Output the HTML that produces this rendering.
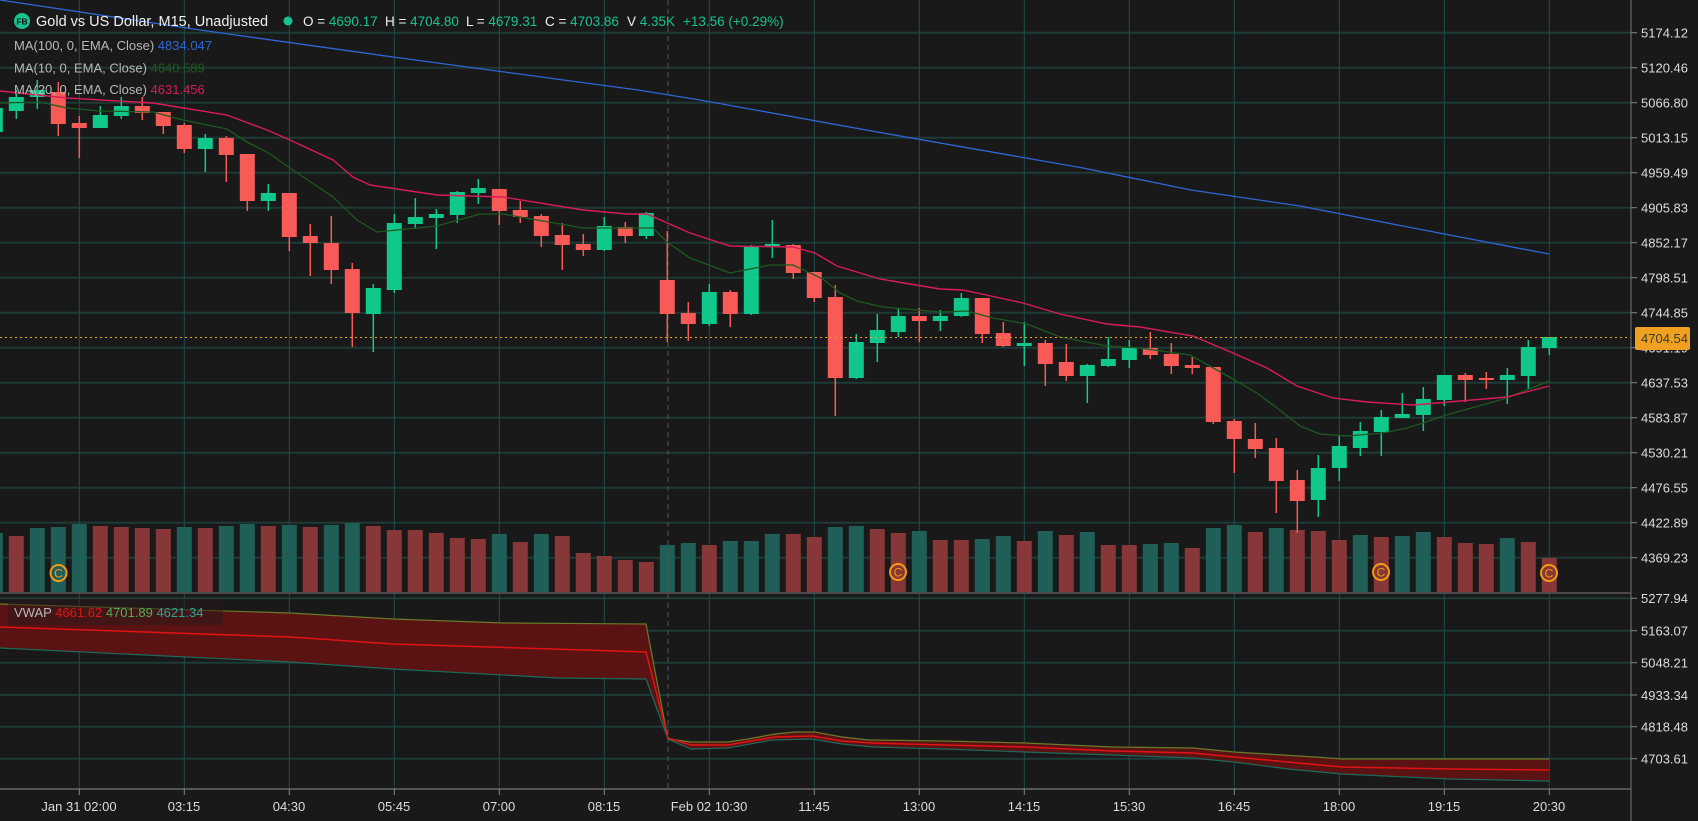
<!DOCTYPE html>
<html><head><meta charset="utf-8"><style>
html,body{margin:0;padding:0;background:#191919;overflow:hidden}
svg{display:block;font-family:"Liberation Sans",sans-serif}
</style></head><body>
<svg id="s" width="1698" height="821" viewBox="0 0 1698 821" xmlns="http://www.w3.org/2000/svg">
<rect width="1698" height="821" fill="#191919"/>
<g id="grid"></g>
<g id="vol"></g>
<line x1="668" y1="0" x2="668" y2="789" stroke="#555" stroke-width="1" stroke-dasharray="5,4"/>
<!-- VWAP band -->
<path d="M0,604 L290,613 L393,619 L504,623 L646,624 L668,739 L691,742 L728,742 L748,739 L775,734 L795,732 L815,732 L842,737 L869,740 L944,741 L1025,743 L1112,747 L1193,748 L1234,752 L1315,757 L1342,759 L1549,759 L1549,781 L1450,779 L1342,774 L1288,769 L1234,762 L1193,758 L1112,755 L1025,752 L944,749 L873,747 L842,744 L812,739 L772,740 L728,748 L691,749 L668,739 L646,679 L558,678 L393,669 L290,662 L0,648 Z" fill="#5a1212"/>
<polyline fill="none" stroke="#6b7a2a" stroke-width="1.2" points="0,604 290,613 393,619 504,623 646,624 668,739 691,742 728,742 748,739 775,734 795,732 815,732 842,737 869,740 944,741 1025,743 1112,747 1193,748 1234,752 1315,757 1342,759 1549,759"/>
<polyline fill="none" stroke="#1f6a5e" stroke-width="1.2" points="0,648 290,662 393,669 558,678 646,679 668,739 691,749 728,748 772,740 812,739 842,744 873,747 944,749 1025,752 1112,755 1193,758 1234,762 1288,769 1342,774 1450,779 1549,781"/>
<polyline fill="none" stroke="#e01414" stroke-width="1.5" points="0,627 290,637 393,644 646,652 668,738 691,745 728,745 775,737 812,736 842,741 873,743 944,745 1025,747 1112,751 1193,753 1234,757 1342,767 1450,769 1549,770"/>
<g id="cand"></g>
<!-- MAs -->
<polyline fill="none" stroke="#2f66d6" stroke-width="1.3" points="0,0 200,30 393,57 638,90 700,100 866,130 1083,168 1191,190 1300,206 1408,227 1549,254"/>
<polyline fill="none" stroke="#1d5a1d" stroke-width="1.3" points="0,103 40,102 67,108 100,111 153,112 183,120 227,129 247,142 267,152 290,168 333,197 357,220 377,232 437,226 480,214 503,214 583,228 653,228 667,242 690,258 730,273 770,265 793,265 823,279 840,293 857,301 883,307 940,312 967,311 993,318 1027,324 1060,337 1107,346 1140,348 1190,355 1233,379 1257,393 1277,408 1300,426 1320,434 1347,436 1383,433 1407,428 1423,423 1443,416 1507,398 1549,381"/>
<polyline fill="none" stroke="#d81b5a" stroke-width="1.4" points="0,91 67,98 153,103 227,115 267,130 290,140 333,160 353,177 370,185 437,195 503,197 583,210 627,214 647,214 690,233 730,246 793,247 815,253 837,266 880,279 940,289 963,290 1023,303 1060,314 1107,324 1140,327 1193,336 1233,353 1267,368 1297,386 1333,398 1367,402 1413,405 1507,397 1549,386"/>
<!-- current price line -->
<line x1="0" y1="337.5" x2="1631" y2="337.5" stroke="#f0a020" stroke-width="1" stroke-dasharray="2,3"/>
<!-- C icons -->
<g fill="none" stroke="#f39c12" stroke-width="2">
<circle cx="58.5" cy="573" r="8"/><circle cx="898" cy="572" r="8"/><circle cx="1381" cy="572" r="8"/><circle cx="1549" cy="573" r="8"/>
</g>
<g fill="#f39c12" font-size="12" text-anchor="middle">
<text x="58.5" y="577.5">C</text><text x="898" y="576.5">C</text><text x="1381" y="576.5">C</text><text x="1549" y="577.5">C</text>
</g>
<!-- separators & axes -->
<rect x="1631" y="0" width="67" height="821" fill="#191919"/>
<rect x="0" y="790" width="1631" height="31" fill="#191919"/>
<line x1="0" y1="593" x2="1631" y2="593" stroke="#4a4a4a" stroke-width="2"/>
<line x1="1631" y1="0" x2="1631" y2="821" stroke="#666" stroke-width="1.2"/>
<line x1="0" y1="789" x2="1631" y2="789" stroke="#777" stroke-width="1.2"/>
<g id="ticks" stroke="#888" stroke-width="1"></g>
<g fill="#dcdcdc" font-size="13">
<text x="1641" y="37.5">5174.12</text>
<text x="1641" y="72.5">5120.46</text>
<text x="1641" y="107.5">5066.80</text>
<text x="1641" y="142.5">5013.15</text>
<text x="1641" y="177.5">4959.49</text>
<text x="1641" y="212.5">4905.83</text>
<text x="1641" y="247.5">4852.17</text>
<text x="1641" y="282.5">4798.51</text>
<text x="1641" y="317.5">4744.85</text>
<text x="1641" y="352.5">4691.19</text>
<text x="1641" y="387.5">4637.53</text>
<text x="1641" y="422.5">4583.87</text>
<text x="1641" y="457.5">4530.21</text>
<text x="1641" y="492.5">4476.55</text>
<text x="1641" y="527.5">4422.89</text>
<text x="1641" y="562.5">4369.23</text>
<text x="1641" y="603">5277.94</text>
<text x="1641" y="635.5">5163.07</text>
<text x="1641" y="667.5">5048.21</text>
<text x="1641" y="700">4933.34</text>
<text x="1641" y="731.5">4818.48</text>
<text x="1641" y="763.5">4703.61</text>
</g>
<rect x="1635" y="327" width="55" height="23" rx="2" fill="#f0a020"/>
<text x="1641" y="343" fill="#3a3a3a" font-size="13">4704.54</text>
<g fill="#dcdcdc" font-size="13" text-anchor="middle">
<text x="79" y="811">Jan 31 02:00</text><text x="184" y="811">03:15</text><text x="289" y="811">04:30</text><text x="394" y="811">05:45</text><text x="499" y="811">07:00</text><text x="604" y="811">08:15</text><text x="709" y="811">Feb 02 10:30</text><text x="814" y="811">11:45</text><text x="919" y="811">13:00</text><text x="1024" y="811">14:15</text><text x="1129" y="811">15:30</text><text x="1234" y="811">16:45</text><text x="1339" y="811">18:00</text><text x="1444" y="811">19:15</text><text x="1549" y="811">20:30</text>
</g>
<!-- header -->
<circle cx="22" cy="21" r="8" fill="#16c290"/>
<text x="22" y="24.5" fill="#111" font-size="8.5" font-weight="bold" text-anchor="middle">FB</text>
<text x="36" y="26" fill="#f0f0f0" font-size="14.5">Gold vs US Dollar, M15, Unadjusted</text>
<circle cx="288" cy="21" r="4.5" fill="#16c290"/>
<g font-size="13.5">
<text x="303" y="26" fill="#f0f0f0">O = <tspan fill="#16c290">4690.17</tspan></text>
<text x="385" y="26" fill="#f0f0f0">H = <tspan fill="#16c290">4704.80</tspan></text>
<text x="466" y="26" fill="#f0f0f0">L = <tspan fill="#16c290">4679.31</tspan></text>
<text x="545" y="26" fill="#f0f0f0">C = <tspan fill="#16c290">4703.86</tspan></text>
<text x="627" y="26" fill="#f0f0f0">V <tspan fill="#16c290">4.35K</tspan></text>
<text x="683" y="26" fill="#16c290">+13.56 (+0.29%)</text>
</g>
<g font-size="13">
<text x="14" y="50" fill="#b8b8b8">MA(100, 0, EMA, Close) <tspan fill="#2f66d6">4834.047</tspan></text>
<text x="14" y="72.5" fill="#b8b8b8">MA(10, 0, EMA, Close) <tspan fill="#1f5c1f">4640.589</tspan></text>
<text x="14" y="94" fill="#b8b8b8">MA(20, 0, EMA, Close) <tspan fill="#d81b5a">4631.456</tspan></text>
</g>
<rect x="8" y="599" width="215" height="26" fill="#2a1a1a" opacity="0.5"/>
<text x="14" y="617" font-size="13" fill="#b8b8b8">VWAP <tspan fill="#e01414">4661.62</tspan> <tspan fill="#4caf50">4701.89</tspan> <tspan fill="#26a69a">4621.34</tspan></text>
</svg>
<script>
(function(){
var NS="http://www.w3.org/2000/svg";
function el(p,t,a){var e=document.createElementNS(NS,t);for(var k in a)e.setAttribute(k,a[k]);p.appendChild(e);return e;}
var g=document.getElementById('grid');
for(var k=0;k<16;k++){var y=32.7+35*k;el(g,'line',{x1:0,y1:y,x2:1631,y2:y,stroke:'#1d3a37','stroke-width':2});}
[598.3,630.7,662.7,695,726.7,758.7].forEach(function(y){el(g,'line',{x1:0,y1:y,x2:1631,y2:y,stroke:'#1d3a37','stroke-width':2});});
for(var k=0;k<15;k++){var x=79.3+105*k;el(g,'line',{x1:x,y1:0,x2:x,y2:789,stroke:'#1d4f4a','stroke-width':1});}
var tk=document.getElementById('ticks');
for(var k=0;k<16;k++){var y=32.7+35*k;el(tk,'line',{x1:1631,y1:y,x2:1637,y2:y});}
[598.3,630.7,662.7,695,726.7,758.7].forEach(function(y){el(tk,'line',{x1:1631,y1:y,x2:1637,y2:y});});
for(var k=0;k<15;k++){var x=79.3+105*k;el(tk,'line',{x1:x,y1:789,x2:x,y2:795});}
var C=[[-4,'g',108,132,100,134],[-3,'g',97,111,90,119],[-2,'g',90,97,80,109],[-1,'r',92,124,82,136],[0,'r',123,128,116,158],[1,'g',115,128,106,128],[2,'g',106,116,97,119],[3,'r',106,113,97,120],[4,'r',112,126,112,134],[5,'r',125,149,123,153],[6,'g',138,149,134,172],[7,'r',138,155,136,182],[8,'r',154,201,154,211],[9,'g',193,201,184,211],[10,'r',193,237,193,251],[11,'r',236,243,224,276],[12,'r',243,270,216,284],[13,'r',269,313,263,347],[14,'g',288,314,284,352],[15,'g',223,290,214,293],[16,'g',217,224,198,229],[17,'g',214,218,209,249],[18,'g',192,215,191,223],[19,'g',188,193,179,204],[20,'r',189,211,189,225],[21,'r',210,217,201,223],[22,'r',216,236,214,247],[23,'r',235,245,223,270],[24,'r',244,250,234,256],[25,'g',226,250,217,251],[26,'r',227,236,222,243],[27,'g',213,236,212,239],[28,'r',280,314,231,342],[29,'r',313,324,302,341],[30,'g',292,324,284,326],[31,'r',292,314,290,327],[32,'g',246,314,245,315],[33,'g',244,246.5,220,258],[34,'r',245,273,244,279],[35,'r',272,298,272,302],[36,'r',297,378,285,416],[37,'g',342,378,334,379],[38,'g',330,343,314,362],[39,'g',316,332,308,337],[40,'r',316,321,308,342],[41,'g',316,321,310,331],[42,'g',298,316,293,317],[43,'r',298,334,298,343],[44,'r',333,346,322,347],[45,'g',343,346,322,366],[46,'r',343,364,340,386],[47,'r',362,376,344,381],[48,'g',365,376,364,403],[49,'g',359,366,337,367],[50,'g',348,360,340,368],[51,'r',348,355,332,359],[52,'r',354,366,343,374],[53,'r',365,368,357,374],[54,'r',367,422,367,424],[55,'r',421,439,419,473],[56,'r',439,449,423,458],[57,'r',448,481,438,513],[58,'r',480,501,470,533],[59,'g',468,500,455,517],[60,'g',446,468,436,481],[61,'g',431,448,422,456],[62,'g',417,432,410,456],[63,'g',414,418,393,418],[64,'g',399,415,387,431],[65,'g',375,400,375,406],[66,'r',375,380,373,402],[67,'r',378,380,372,389],[68,'g',375,380,368,404],[69,'g',347,376,340,389],[70,'g',337,348,337,355]];
var cg=document.getElementById('cand');
C.forEach(function(c){var x=79.3+21*c[0];var col=c[1]=='g'?'#10c88c':'#f75a57';
el(cg,'line',{x1:x,y1:c[4],x2:x,y2:c[5],stroke:col,'stroke-width':1.5});
el(cg,'rect',{x:x-7.5,y:c[2],width:15,height:Math.max(1.5,c[3]-c[2]),fill:col});});
var V=['g533','r536','g528','g527','g524','r526','r527','r528','r529','g527','r528','g526','g524','r526','g525','r527','g525','g523','r526','r530','r530','r533','r538','r539','g534','r542','g534','r536','r553','r556','r560','r562','g545','g543','r545','g541','g541','g534','r534','r537','g527','g526','r529','r533','g531','r540','r540','g539','g536','r541','g531','r535','g532','r545','r545','g544','g543','r548','g528','g525','r532','g528','r530','r531','r540','g535','r537','g536','g532','r537','r543','r544','g538','r542','r558'];
var vg=document.getElementById('vol');
V.forEach(function(v,j){var i=j-4;var x=79.3+21*i;var t=+v.slice(1);
el(vg,'rect',{x:x-7.5,y:t,width:15,height:592-t,fill:v[0]=='g'?'#205e58':'#873737'});});
})();
</script>
</body></html>
